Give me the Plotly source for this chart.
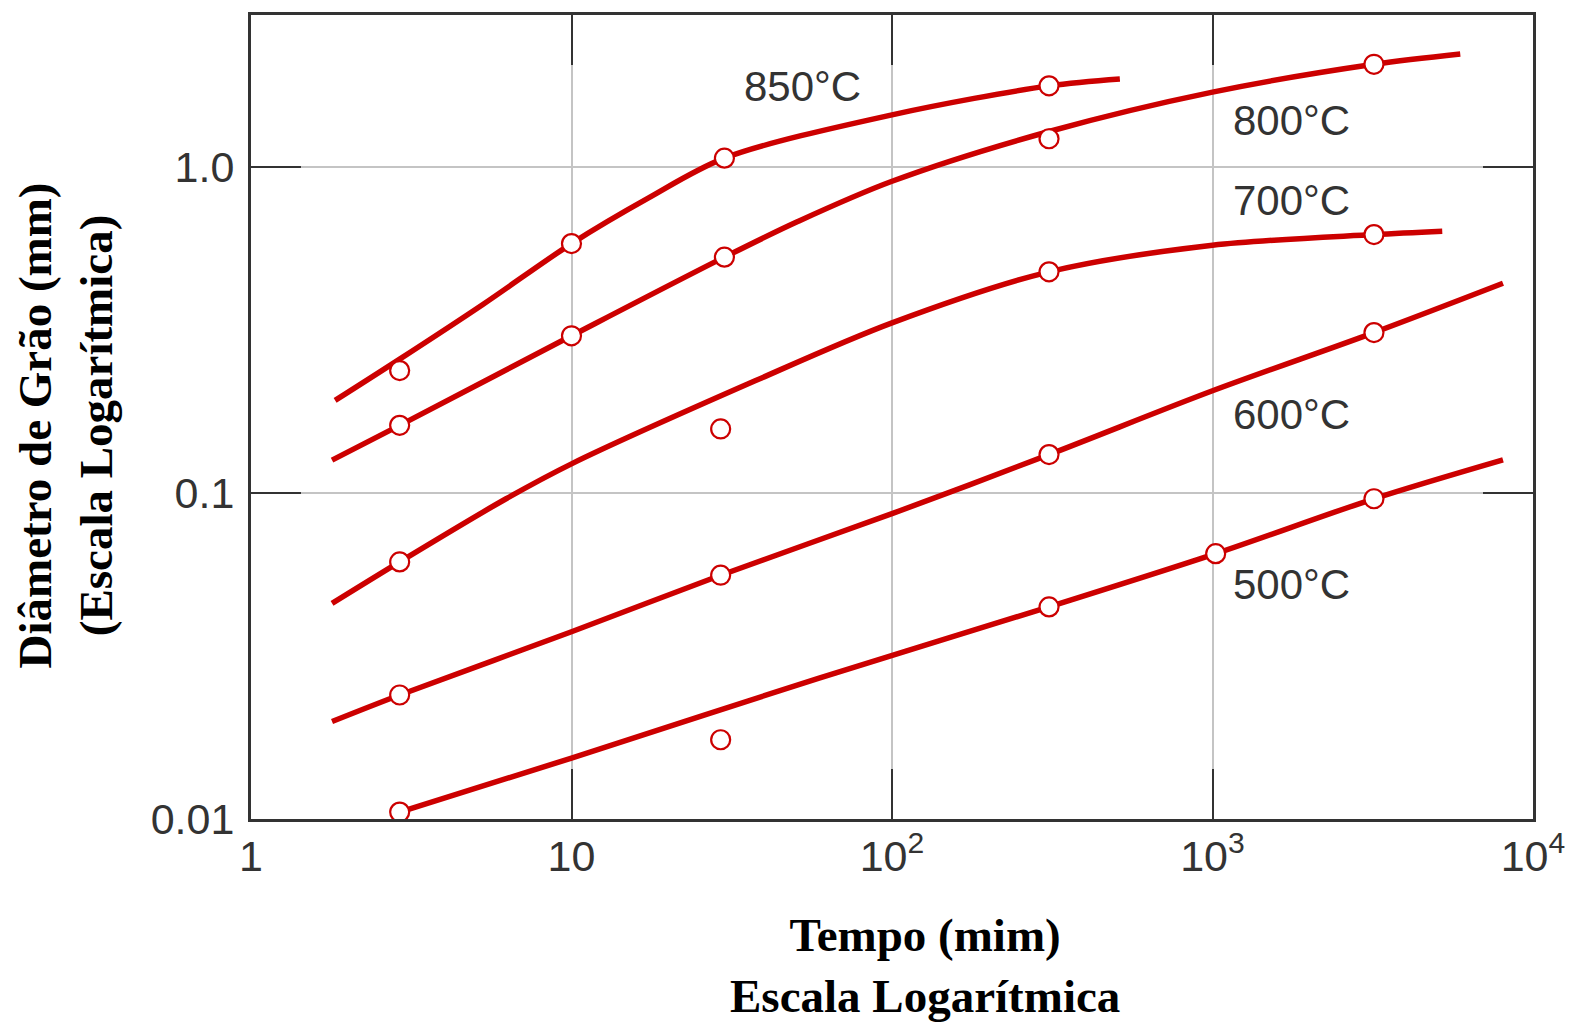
import math
import plotly.graph_objects as go

# ---- data (time in min, grain diameter in mm) ----
t850_curve = [1.83, 2.91, 5.29, 10.0, 17.4, 30.0, 100, 309, 514]
d850_curve = [0.192, 0.257, 0.378, 0.581, 0.802, 1.062, 1.442, 1.769, 1.858]
t850_pts = [2.91, 10.0, 30.0, 309]
d850_pts = [0.237, 0.581, 1.062, 1.769]

t800_curve = [1.79, 2.91, 10.0, 30.0, 51.0, 100, 309, 1000, 3190, 5930]
d800_curve = [0.126, 0.161, 0.303, 0.528, 0.680, 0.902, 1.282, 1.693, 2.060, 2.216]
t800_pts = [2.91, 10.0, 30.0, 309, 3190]
d800_pts = [0.161, 0.303, 0.528, 1.218, 2.060]

t700_curve = [1.79, 2.91, 6.25, 10.0, 37.4, 100, 309, 1000, 3190, 5210]
d700_curve = [0.0458, 0.0614, 0.0959, 0.1227, 0.2205, 0.332, 0.476, 0.574, 0.619, 0.634]
t700_pts = [2.91, 29.2, 309, 3190]
d700_pts = [0.0614, 0.157, 0.476, 0.619]

t600_curve = [1.79, 2.91, 10.0, 29.2, 100, 309, 1000, 3190, 8060]
d600_curve = [0.0199, 0.0240, 0.0375, 0.0559, 0.0863, 0.131, 0.2055, 0.310, 0.439]
t600_pts = [2.91, 29.2, 309, 3190]
d600_pts = [0.0240, 0.0559, 0.131, 0.310]

t500_curve = [2.91, 10.0, 58.9, 309, 1023, 3190, 8060]
d500_curve = [0.0105, 0.01537, 0.0270, 0.0447, 0.0651, 0.0959, 0.1262]
t500_pts = [2.91, 29.2, 309, 1023, 3190]
d500_pts = [0.0105, 0.0175, 0.0447, 0.0651, 0.0959]

labels = ["850°C", "800°C", "700°C", "600°C", "500°C"]
label_t = [52.5, 1767, 1767, 1767, 1767]
label_d = [1.761, 1.385, 0.789, 0.1735, 0.0524]

x_tickvals = [1, 10, 100, 1000, 10000]
x_ticktext = ["1", "10", "10<sup>2</sup>", "10<sup>3</sup>", "10<sup>4</sup>"]
y_tickvals = [0.01, 0.1, 1.0]
y_ticktext = ["0.01", "0.1", "1.0"]

RED = "#cc0000"
series = [
    (t850_curve, d850_curve, t850_pts, d850_pts),
    (t800_curve, d800_curve, t800_pts, d800_pts),
    (t700_curve, d700_curve, t700_pts, d700_pts),
    (t600_curve, d600_curve, t600_pts, d600_pts),
    (t500_curve, d500_curve, t500_pts, d500_pts),
]

fig = go.Figure()
for tc, dc, tp, dp in series:
    fig.add_trace(go.Scatter(x=tc, y=dc, mode="lines",
                             line=dict(color=RED, width=5.5, shape="spline", smoothing=0.9),
                             hoverinfo="skip", showlegend=False))
for tc, dc, tp, dp in series:
    fig.add_trace(go.Scatter(x=tp, y=dp, mode="markers",
                             marker=dict(symbol="circle", size=19, color="white",
                                         line=dict(color=RED, width=2.2)),
                             showlegend=False))

for lab, lt, ld in zip(labels, label_t, label_d):
    # annotations on log axes are positioned in log10 units
    fig.add_annotation(x=math.log10(lt), y=math.log10(ld), xref="x", yref="y", text=lab,
                       showarrow=False, xanchor="center", yanchor="middle",
                       font=dict(family="Liberation Sans, Arial, sans-serif", size=42, color="#333333"))

title_font = dict(family="Liberation Serif, Times New Roman, serif", size=47, color="black")
fig.add_annotation(xref="paper", yref="paper", x=0.5258, y=-0.1826,
                   text="<b>Tempo (mim)</b><br><b>Escala Logarítmica</b>",
                   showarrow=False, xanchor="center", yanchor="middle", font=title_font)
fig.add_annotation(xref="paper", yref="paper", x=-0.1445, y=0.4892,
                   text="<b>Diâmetro de Grão (mm)</b><br><b>(Escala Logarítmica)</b>",
                   showarrow=False, xanchor="center", yanchor="middle", textangle=-90,
                   font=title_font)

tick_font = dict(family="Liberation Sans, Arial, sans-serif", size=43, color="#333333")
axis_common = dict(showline=True, linecolor="#333333", linewidth=3, mirror="ticks",
                   ticks="inside", ticklen=50, tickwidth=2, tickcolor="#333333",
                   showgrid=True, gridcolor="#c4c4c4", gridwidth=2, zeroline=False,
                   tickfont=tick_font)
fig.update_xaxes(type="log", range=[0, 4], tickvals=x_tickvals, ticktext=x_ticktext,
                 ticklabelstandoff=-3, **axis_common)
fig.update_yaxes(type="log", range=[-2, 0.465], tickvals=y_tickvals, ticktext=y_ticktext,
                 ticklabelstandoff=5, **axis_common)

fig.update_layout(width=1577, height=1022,
                  margin=dict(l=251, r=40, t=13, b=203, pad=0),
                  plot_bgcolor="white", paper_bgcolor="white")

fig.write_html("out.html", config={"displayModeBar": False},
               post_script="document.body.style.margin='0';document.body.style.overflow='hidden';")
